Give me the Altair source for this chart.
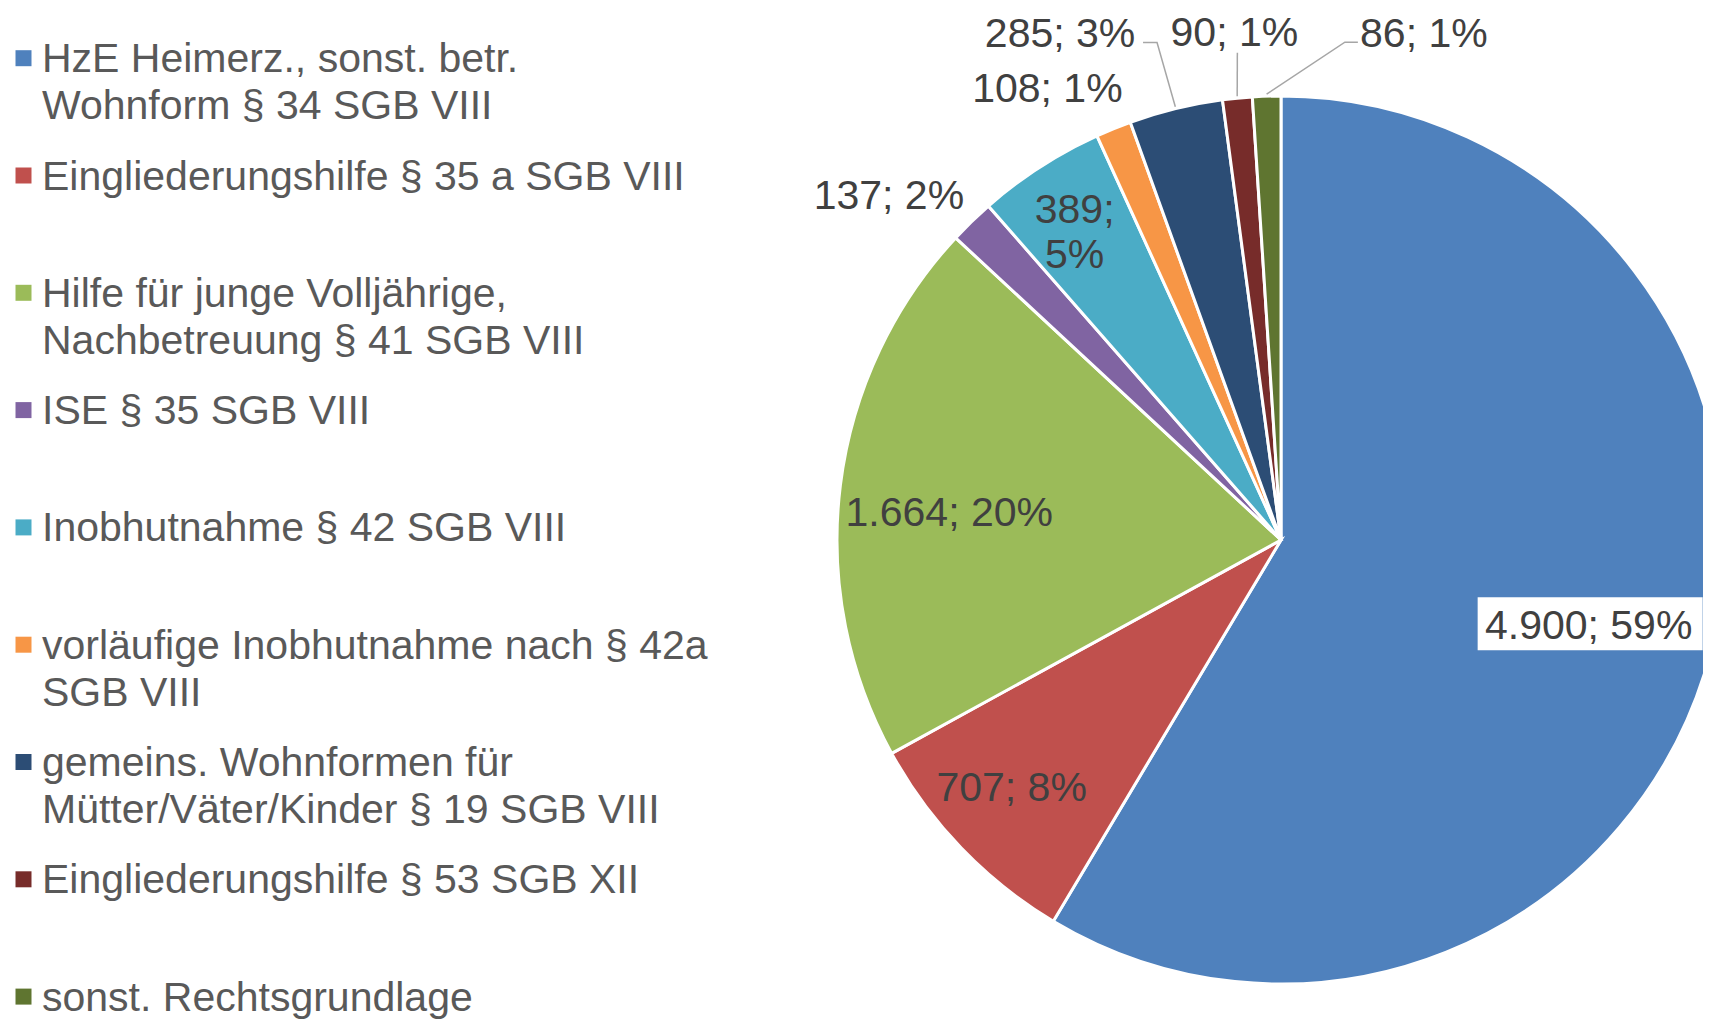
import math
import altair as alt
import pandas as pd

# ---------------- data ----------------
CATEGORIES = [
    "HzE Heimerz., sonst. betr.\nWohnform § 34 SGB VIII",
    "Eingliederungshilfe § 35 a SGB VIII",
    "Hilfe für junge Volljährige,\nNachbetreuung § 41 SGB VIII",
    "ISE § 35 SGB VIII",
    "Inobhutnahme § 42 SGB VIII",
    "vorläufige Inobhutnahme nach § 42a\nSGB VIII",
    "gemeins. Wohnformen für\nMütter/Väter/Kinder § 19 SGB VIII",
    "Eingliederungshilfe § 53 SGB XII",
    "sonst. Rechtsgrundlage",
]
VALUES = [4900, 707, 1664, 137, 389, 108, 285, 90, 86]
COLORS = ["#4F81BD", "#C0504D", "#9BBB59", "#8064A2", "#4BACC6",
          "#F79646", "#2C4D75", "#772C2A", "#5F7530"]
LABEL_WRAP = [False, False, False, False, True, False, False, False, False]

# ---------------- layout ----------------
W, H = 1695, 1011
CX, CY, R = 1273, 532, 444
LABEL_RADIUS = [319, 365, 333, 523, 391, 510, 554, 511, 528]
LABEL_SHIFT = [-0.1, 1.5, -2.1, -4.4, 1.0, -5.1, -9.8, 0.4, 17.55]
LEADERS = {6: [(83, 10.5), (97, 10.5)], 7: [(3, 21.5)], 8: [(-66, 10.5), (-79, 10.5)]}
LEADER_R = 446
BOXED = {0: (-111, 114, -27, 26)}
LEG_Y0, LEG_STEP = 49.2, 117.3
FONT = "Liberation Sans"
FS = 41

total = sum(VALUES)


def fmt(v):
    return f"{v:,}".replace(",", ".")


rows = []
cum = 0
for i, (c, v) in enumerate(zip(CATEGORIES, VALUES)):
    mid = (cum + v / 2) / total * 360
    cum += v
    pct = round(v / total * 100)
    sep = "\n" if LABEL_WRAP[i] else " "
    ang = math.radians(mid + LABEL_SHIFT[i])
    r = LABEL_RADIUS[i]
    rows.append(dict(idx=i, cat=c, value=v, label=f"{fmt(v)};{sep}{pct}%",
                     mid=math.radians(mid),
                     lx=CX + r * math.sin(ang), ly=CY - r * math.cos(ang)))
df = pd.DataFrame(rows)

lead_rows = []
for i, pts in LEADERS.items():
    lx, ly = df.lx[i], df.ly[i]
    for k, (ox, oy) in enumerate(pts):
        lead_rows.append(dict(lid=i, ord=k, x=lx + ox, y=ly + oy))
    m = df.mid[i]
    lead_rows.append(dict(lid=i, ord=len(pts), x=CX + LEADER_R * math.sin(m),
                          y=CY - LEADER_R * math.cos(m)))
lead_df = pd.DataFrame(lead_rows)

box_df = pd.DataFrame([
    dict(x1=df.lx[i] + b[0], x2=df.lx[i] + b[1], y1=df.ly[i] + b[2], y2=df.ly[i] + b[3])
    for i, b in BOXED.items()
])

color = alt.Color("cat:N", scale=alt.Scale(domain=CATEGORIES, range=COLORS), legend=None)

arcs = alt.Chart(df).mark_arc(outerRadius=R, stroke="white", strokeWidth=3).encode(
    theta=alt.Theta("value:Q", stack=True),
    color=color,
    order=alt.Order("idx:Q"),
    x=alt.value(CX),
    y=alt.value(CY),
)

leaders = alt.Chart(lead_df).mark_line(color="#A6A6A6", strokeWidth=1.5).encode(
    x=alt.X("x:Q", scale=None, axis=None),
    y=alt.Y("y:Q", scale=None, axis=None),
    detail="lid:N",
    order="ord:Q",
)

box = alt.Chart(box_df).mark_rect(color="white").encode(
    x=alt.X("x1:Q", scale=None, axis=None), x2="x2:Q",
    y=alt.Y("y1:Q", scale=None, axis=None), y2="y2:Q",
)

labels = alt.Chart(df).mark_text(
    font=FONT, fontSize=FS, color="#404040", align="center", baseline="top",
    dy=-17, lineBreak="\n", lineHeight=45,
).encode(
    x=alt.X("lx:Q", scale=None, axis=None),
    y=alt.Y("ly:Q", scale=None, axis=None),
    text="label:N",
)

leg_df = pd.DataFrame(dict(cat=CATEGORIES, idx=list(range(len(CATEGORIES)))))
yleg = alt.Y("cat:N", axis=None, sort=CATEGORIES,
             scale=alt.Scale(domain=CATEGORIES, range=[LEG_Y0, LEG_Y0 + 8 * LEG_STEP], padding=0))

leg_sym = alt.Chart(leg_df).mark_square(size=256, filled=True, opacity=1, yOffset=1).encode(
    x=alt.value(15.5), y=yleg, color=color,
)
leg_txt = alt.Chart(leg_df).mark_text(
    font=FONT, fontSize=FS, color="#595959", align="left", baseline="top",
    dy=-17, lineBreak="\n", lineHeight=47,
).encode(
    x=alt.value(34), y=yleg, text="cat:N",
)

chart = alt.layer(arcs, leaders, box, labels, leg_sym, leg_txt).resolve_scale(
    x="independent", y="independent"
).properties(
    width=W, height=H, padding=0, autosize=alt.AutoSizeParams(type="none"),
).configure_view(strokeWidth=0)

chart.save("out.html", embed_options={"renderer": "svg", "actions": False})
